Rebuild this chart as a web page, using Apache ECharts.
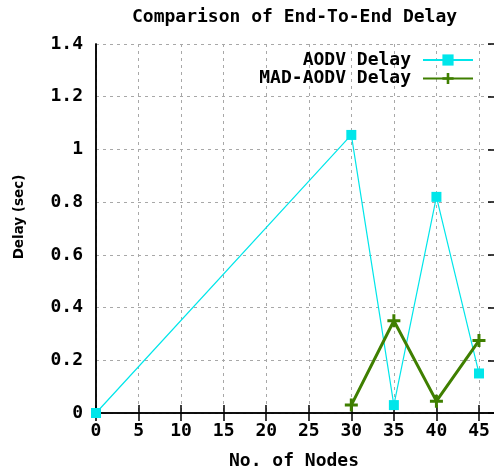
<!DOCTYPE html>
<html>
<head>
<meta charset="utf-8">
<script src="https://cdn.jsdelivr.net/npm/echarts@6/dist/echarts.min.js"></script>
<style>
  html, body { margin: 0; padding: 0; background: #fff; }
  #chart { width: 494px; height: 471px; }
</style>
</head>
<body>
<div id="chart"></div>
<script>
// End-to-end delay measured for plain AODV and MAD-AODV
const nodes = [0, 30, 35, 40, 45];
const aodvDelay = [0, 1.055, 0.03, 0.82, 0.15];
const madNodes = [30, 35, 40, 45];
const madAodvDelay = [0.03, 0.35, 0.045, 0.275];
const xTicks = [0, 5, 10, 15, 20, 25, 30, 35, 40, 45];
const yTicks = [0, 0.2, 0.4, 0.6, 0.8, 1, 1.2, 1.4];

const MONO = '"DejaVu Sans Mono", "Liberation Mono", monospace';
const PLUS = 'path://M5,0H8V5H13V8H8V13H5V8H0V5H5Z';

const GRID = { left: 96, right: -2, top: 44, bottom: 58 };
const PLOT_W = 494 - GRID.left - GRID.right;   // 400
const PLOT_H = 471 - GRID.top - GRID.bottom;   // 369

const X_MIN = 0, X_MAX = 47, X_STEP = 5;
const Y_MIN = 0, Y_MAX = 1.4, Y_STEP = 0.2;

const chart = echarts.init(document.getElementById('chart'), null, { renderer: 'canvas' });

const pairs = (xs, ys) => xs.map((x, i) => [x, ys[i]]);

const gridLine = { show: true, lineStyle: { color: '#a8a8a8', width: 1, type: [3, 4] } };
const border = { show: true, lineStyle: { color: '#000', width: 1.5 } };
const noTick = { show: false };
const tick = { show: true, length: 8, lineStyle: { color: '#000', width: 1.5 } };
const hidden = { show: false };

// Tick-only axes: each sits on the opposite border (via a negative offset),
// so its outward ticks point into the plot area.
const tickX = (position, offset) => ({
  type: 'value', min: X_MIN, max: X_MAX, interval: X_STEP, position, offset,
  axisLine: hidden, axisTick: tick, axisLabel: hidden, splitLine: hidden
});
const tickY = (position, offset) => ({
  type: 'value', min: Y_MIN, max: Y_MAX, interval: Y_STEP, position, offset,
  axisLine: hidden, axisTick: tick, axisLabel: hidden, splitLine: hidden
});

chart.setOption({
  animation: false,
  backgroundColor: '#ffffff',
  title: {
    text: 'Comparison of End-To-End Delay',
    left: 127,
    top: 3,
    textStyle: { fontFamily: MONO, fontWeight: 'bold', fontSize: 18, color: '#000' }
  },
  legend: [
    {
      data: ['AODV Delay'],
      right: 15, top: 46,
      align: 'right',
      itemWidth: 50, itemHeight: 14,
      textStyle: { fontFamily: MONO, fontWeight: 'bold', fontSize: 18, color: '#000', padding: [0, 7, 0, 0] }
    },
    {
      data: ['MAD-AODV Delay'],
      right: 15, top: 64.5,
      align: 'right',
      itemWidth: 50, itemHeight: 14,
      textStyle: { fontFamily: MONO, fontWeight: 'bold', fontSize: 18, color: '#000', padding: [0, 7, 0, 0] }
    }
  ],
  grid: Object.assign({ containLabel: false, outerBoundsMode: 'none' }, GRID),
  xAxis: [
    {
      type: 'value', min: X_MIN, max: X_MAX, interval: X_STEP, position: 'bottom',
      name: 'No. of Nodes', nameLocation: 'middle', nameGap: 39,
      nameTextStyle: { fontFamily: MONO, fontWeight: 'bold', fontSize: 18, color: '#000', padding: [0, 4, 0, 0] },
      axisLine: border, axisTick: noTick, splitLine: gridLine,
      axisLabel: {
        fontFamily: MONO, fontWeight: 'bold', fontSize: 18, color: '#000', margin: 9,
        showMaxLabel: false,
        formatter: v => (xTicks.includes(v) ? String(v) : '')
      }
    },
    {
      type: 'value', min: X_MIN, max: X_MAX, interval: X_STEP, position: 'top',
      axisLine: border, axisTick: noTick, splitLine: hidden, axisLabel: hidden
    },
    tickX('top', -PLOT_H),
    tickX('bottom', -PLOT_H)
  ],
  yAxis: [
    {
      type: 'value', min: Y_MIN, max: Y_MAX, interval: Y_STEP, position: 'left',
      name: 'Delay (sec)', nameLocation: 'middle', nameGap: 70, nameRotate: 90,
      nameTextStyle: { fontFamily: '"DejaVu Sans", sans-serif', fontWeight: 'bold', fontSize: 13.5, color: '#000', padding: [0, 0, 0, 23] },
      axisLine: border, axisTick: noTick, splitLine: gridLine,
      axisLabel: {
        fontFamily: MONO, fontWeight: 'bold', fontSize: 18, color: '#000', margin: 13,
        formatter: v => {
          const t = yTicks.find(k => Math.abs(k - v) < 1e-6);
          return t === undefined ? '' : String(t);
        }
      }
    },
    {
      type: 'value', min: Y_MIN, max: Y_MAX, interval: Y_STEP, position: 'right',
      axisLine: border, axisTick: noTick, splitLine: hidden, axisLabel: hidden
    },
    tickY('right', -PLOT_W),
    tickY('left', -PLOT_W)
  ],
  series: [
    {
      name: 'AODV Delay',
      type: 'line',
      xAxisIndex: 0, yAxisIndex: 0,
      data: pairs(nodes, aodvDelay),
      symbol: 'rect', symbolSize: 10,
      clip: false,
      color: '#00e6ea',
      lineStyle: { color: '#00e6ea', width: 1.2 },
      itemStyle: { color: '#00e6ea' },
      z: 3
    },
    {
      name: 'MAD-AODV Delay',
      type: 'line',
      xAxisIndex: 0, yAxisIndex: 0,
      data: pairs(madNodes, madAodvDelay),
      symbol: PLUS, symbolSize: 13,
      clip: false,
      color: '#3f7f00',
      lineStyle: { color: '#3f7f00', width: 3 },
      itemStyle: { color: '#3f7f00' },
      z: 4
    }
  ]
});
</script>
</body>
</html>
